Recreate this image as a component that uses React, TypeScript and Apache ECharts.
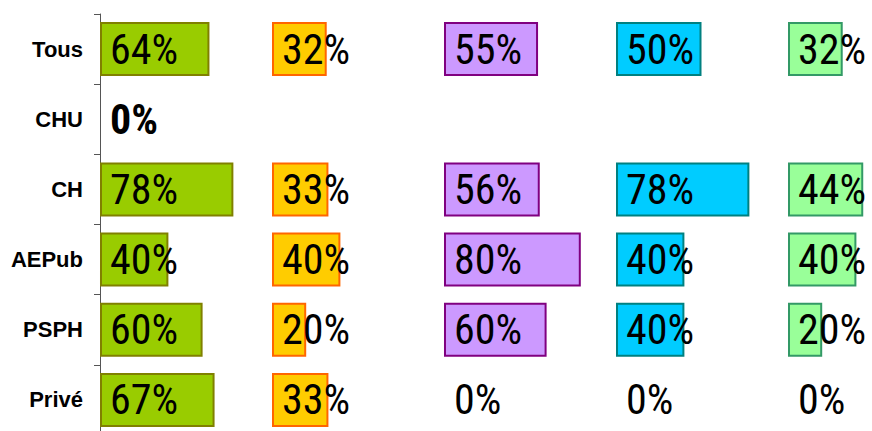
import React, { useEffect, useRef } from "react";
import * as echarts from "echarts";

const categories = ["Tous", "CHU", "CH", "AEPub", "PSPH", "Privé"];
const col1: (number | null)[] = [64, 0, 78, 40, 60, 67];
const col2: (number | null)[] = [32, null, 33, 40, 20, 33];
const col3: (number | null)[] = [55, null, 56, 80, 60, 0];
const col4: (number | null)[] = [50, null, 78, 40, 40, 0];
const col5: (number | null)[] = [32, null, 44, 40, 20, 0];
const columns = [col1, col2, col3, col4, col5];
const fills = ["#99CC00", "#FFCC00", "#CC99FF", "#00CCFF", "#99FF99"];
const borders = ["#808000", "#FF6600", "#800080", "#008080", "#339966"];
const boldLabelCells = [{ col: 0, row: "CHU" }];

const LABEL_FONT =
  "'Liberation Sans Narrow', 'Arial Narrow', 'Roboto Condensed', 'Open Sans Condensed', 'Noto Sans Condensed', 'DejaVu Sans Condensed', sans-serif";

export default function App() {
  const ref = useRef<HTMLDivElement>(null);
  useEffect(() => {
    if (!ref.current) return;
    const chart = echarts.init(ref.current, undefined, { renderer: "svg" });
    const grids: any[] = [];
    const xAxes: any[] = [];
    const yAxes: any[] = [];
    const series: any[] = [];
    columns.forEach((col, i) => {
      grids.push({
        left: 100 + i * 172,
        width: 171,
        top: 14,
        bottom: -4,
        outerBoundsMode: "none",
        containLabel: false,
      });
      xAxes.push({ type: "value", gridIndex: i, min: 0, max: 100, show: false });
      yAxes.push({
        type: "category",
        gridIndex: i,
        data: categories,
        inverse: true,
        show: i === 0,
        axisLine: { show: true, lineStyle: { color: "#555", width: 1 } },
        axisTick: { show: true, length: 6, lineStyle: { color: "#555" } },
        axisLabel: {
          margin: 17,
          fontSize: 22,
          fontWeight: "bold",
          fontFamily: "'Liberation Sans', Arial, sans-serif",
          color: "#000",
        },
        splitLine: { show: false },
      });
      series.push({
        type: "bar",
        xAxisIndex: i,
        yAxisIndex: i,
        barWidth: 54,
        itemStyle: { color: fills[i], borderColor: borders[i], borderWidth: 2 },
        label: {
          show: true,
          position: "insideLeft",
          distance: 10,
          color: "#000",
          fontSize: 42,
          fontFamily: LABEL_FONT,
          textBorderWidth: 0,
          formatter: (p: any) => (p.value == null ? "" : p.value + "%"),
        },
        data: col.map((v, r) => {
          if (v == null) return { value: null };
          const bold = boldLabelCells.some((c) => c.col === i && c.row === categories[r]);
          const item: any = { value: v };
          if (v === 0) item.itemStyle = { borderWidth: 0 };
          if (bold) item.label = { fontWeight: "bold" };
          return item;
        }),
      });
    });
    chart.setOption({
      animation: false,
      backgroundColor: "#fff",
      grid: grids,
      xAxis: xAxes,
      yAxis: yAxes,
      series,
    });
    return () => chart.dispose();
  }, []);
  return (
    <div
      ref={ref}
      style={{ position: "fixed", left: 0, top: 0, width: 872, height: 431 }}
    />
  );
}
